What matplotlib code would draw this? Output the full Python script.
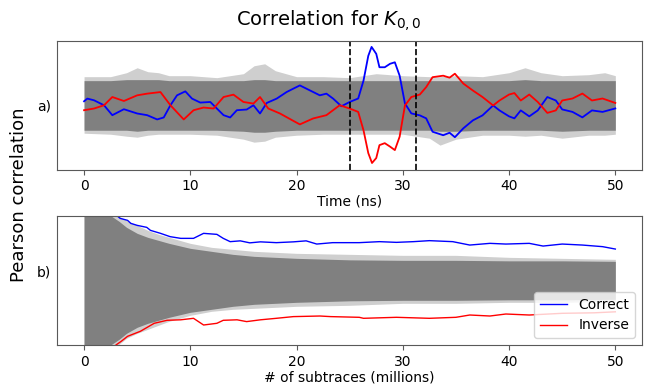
import numpy as np
import matplotlib.pyplot as plt

# values are Pearson correlation x 1000 (y tick labels are hidden in the chart)

# --- a) correlation over time ---
time_blue = [0.0, 0.31, 0.94, 1.88, 2.66, 3.75, 5.0, 5.94, 6.88, 7.5, 8.13, 8.75, 9.53,
             10.16, 10.94, 11.88, 12.5, 13.13, 13.75, 14.38, 15.31, 15.94, 16.56, 17.19,
             18.13, 19.06, 19.69, 20.31, 21.25, 22.19, 22.81, 23.44, 24.22, 25.0, 25.8,
             26.3, 26.75, 27.06, 27.5, 27.8, 28.3, 28.8, 29.25, 29.7, 30.2, 30.8, 31.6,
             32.2, 32.8, 33.8, 34.4, 34.9, 35.7, 36.6, 37.5, 38.5, 39.1, 40.0, 40.5, 41.1,
             41.9, 42.7, 43.6, 44.4, 45.0, 45.97, 46.9, 47.8, 48.8, 50.0]
corr_blue = [4.2, 6.9, 5.2, 0.2, -9.8, -3.8, -8.1, -9.8, -14.1, -12.1, 0.2, 10.2, 14.2,
             6.9, 2.9, 3.5, -3.1, -9.8, -12.1, -4.8, -4.1, 0.2, -8.1, 2.5,
             6.9, 13.5, 16.9, 20.2, 15.2, 10.2, 11.9, 6.9, -0.8, 3.5, 7.0,
             25.0, 50.0, 59.0, 52.0, 38.5, 38.5, 42.0, 43.5, 30.0, 2.0, -8.0, -10.0,
             -13.0, -26.5, -30.0, -27.5, -32.0, -23.0, -15.0, -10.0, 0.0, -5.0, -11.0, -13.0, -5.0,
             -11.0, -5.0, 8.5, 5.0, -4.0, -6.5, -12.0, -5.0, -6.5, -3.0]

time_red = [0.0, 0.94, 1.88, 2.66, 3.75, 5.0, 5.94, 7.19, 8.13, 9.38, 10.31, 11.25,
            12.19, 13.13, 14.06, 15.0, 15.94, 16.56, 17.34, 18.44, 19.69, 20.31, 21.56,
            22.81, 24.06, 25.0, 25.8, 26.3, 26.75, 27.1, 27.5, 27.8, 28.3, 28.8, 29.25,
            29.7, 30.2, 30.8, 31.6, 32.2, 32.8, 33.8, 34.4, 34.9, 35.7, 36.6, 37.5, 38.5,
            39.1, 40.0, 40.5, 41.1, 41.9, 42.7, 43.6, 44.4, 45.0, 45.97, 46.9, 47.8, 48.8,
            50.0]
corr_red = [-4.8, -3.1, 0.2, 8.5, 4.5, 10.2, 11.9, 13.5, 0.2, -14.1, -4.8, -2.1,
            -3.1, 8.5, 10.9, 3.5, 1.9, 8.5, -3.1, -8.1, -15.5, -19.1, -13.1,
            -9.8, 0.2, -3.1, -6.5, -25.0, -48.0, -58.0, -53.0, -40.0, -38.0, -41.5, -45.0,
            -31.5, 0.0, 8.5, 11.0, 18.5, 28.5, 30.0, 28.0, 32.0, 22.0, 15.0, 8.5, 0.0,
            5.0, 11.0, 12.5, 5.0, 11.0, 3.5, -7.5, -5.0, 5.0, 7.0, 12.0, 5.0, 7.0,
            2.5]

# grey key-guess traces, drawn as their envelopes
time_env = [0, 2.5, 4, 5, 6, 7, 8, 10, 12.5, 15, 16, 17, 18, 20, 22.5, 25, 27.5,
            30, 32.5, 33.5, 35, 37.5, 40, 41.5, 43, 45, 47.5, 49, 50]
grey_outer_hi = [29, 29, 33, 38, 34, 33, 30, 30, 28, 32, 40, 42, 35, 29, 29, 28, 32,
                 30, 29, 29, 30, 29, 33, 38, 33, 30, 31, 33, 30]
grey_outer_lo = [-28, -29, -31, -32, -30, -29, -29, -29, -30, -34, -37, -36, -32, -30, -29, -29, -29,
                 -29, -33, -40, -34, -30, -30, -31, -30, -33, -30, -30, -29]
grey_core_hi = [25, 25, 26, 26, 26, 26, 25, 25, 25, 25, 26, 26, 25, 25, 25, 25, 25,
                25, 25, 25, 25, 25, 25, 26, 25, 25, 25, 25, 25]
grey_core_lo = [-25, -25, -25, -26, -25, -25, -25, -25, -25, -26, -27, -27, -26, -25, -25, -25, -25,
                -25, -25, -26, -26, -25, -25, -25, -25, -26, -25, -25, -25]

window = [25.0, 31.2]

# --- b) correlation vs number of subtraces ---
n_blue = [2.9, 3.1, 3.4, 4.1, 4.4, 5.0, 5.9, 6.25, 7.2, 8.1, 9.1, 10.3, 11.25, 12.5,
          13.1, 13.75, 14.7, 15.6, 16.6, 18.1, 19.7, 20.9, 21.9, 23.4, 25.9, 27.8,
          29.4, 31.0, 32.5, 34.7, 36.3, 38.2, 39.7, 41.9, 43.2, 45.0, 46.9, 48.8, 50.0]
sub_blue = [70, 64.7, 62, 60, 57, 55, 53, 50, 47, 43.7, 42, 42, 47, 46,
            42, 38.7, 39.5, 37.5, 38.5, 37.7, 38.5, 39.5, 36.3, 37.7, 37.7, 38.7,
            38, 38.7, 39.7, 38.7, 35.3, 37, 36.3, 37, 34.3, 36.3, 35.3, 33.7, 31.3]

n_red = [2.8, 3.0, 3.5, 4.1, 5.3, 6.6, 7.8, 9.1, 10.3, 11.25, 12.5, 13.1, 14.4, 15.3,
         16.6, 18.1, 19.7, 22.2, 23.2, 25.9, 26.3, 29.4, 32.5, 35.0, 36.3, 38.2, 39.7,
         41.9, 45.0, 48.0, 50.0]
sub_red = [-70, -64.7, -61, -56, -51, -43, -40, -39.5, -38, -44.7, -43, -40, -39.5, -41.3,
           -39.5, -38, -36.3, -35.7, -36.3, -37, -38, -37, -38, -37, -34.7, -35.7, -33.7,
           -34.7, -33, -32.5, -31.5]

n_env = [0, 2.3, 2.6, 3.3, 4, 5, 6, 7, 8, 10, 12, 14, 16, 18, 20, 25, 30, 35, 40, 45, 50]
sub_outer_hi = [100, 100, 100, 64, 60, 55, 50, 46, 43, 37, 33, 31, 29, 28, 27, 26, 25, 25, 23, 22, 21]
sub_outer_lo = [-100, -100, -100, -64, -58, -53, -49, -45, -41, -35, -31, -29, -28, -27, -26, -25, -23, -23, -22, -22, -21]
sub_core_hi = [100, 100, 64, 59, 53, 47, 43, 40, 37, 32, 29, 26, 24, 23, 22, 20.5, 20, 20, 19.5, 19.5, 19]
sub_core_lo = [-100, -100, -64, -59, -53, -47, -43, -40, -37, -32, -29, -26, -24, -23, -22, -20.5, -20, -20, -19.5, -19.5, -19]

plt.rcParams['font.family'] = 'DejaVu Sans'
fig = plt.figure(figsize=(6.57, 3.9), dpi=100)
ax1 = fig.add_axes([0.0875, 0.565, 0.8895, 0.331])
ax2 = fig.add_axes([0.0875, 0.1154, 0.8895, 0.3316])

spine_col = '0.35'

# top panel
ax1.fill_between(time_env, grey_outer_lo, grey_outer_hi, color='#cfcfcf', lw=0)
ax1.fill_between(time_env, grey_core_lo, grey_core_hi, color='#808080', lw=0)
ax1.plot(time_blue, corr_blue, color='blue', lw=1.3)
ax1.plot(time_red, corr_red, color='red', lw=1.3)
for w in window:
    ax1.axvline(w, color='black', ls='--', lw=1.2)
ax1.set_xlim(-2.5, 52.5)
ax1.set_ylim(-64.7, 65.4)
ax1.set_xticks([0, 10, 20, 30, 40, 50])
ax1.set_yticks([])
ax1.set_xlabel('Time (ns)', fontsize=10, labelpad=1)

# bottom panel
ax2.fill_between(n_env, sub_outer_lo, sub_outer_hi, color='#cfcfcf', lw=0)
ax2.fill_between(n_env, sub_core_lo, sub_core_hi, color='#808080', lw=0)
ax2.plot(n_blue, sub_blue, color='blue', lw=1.0, label='Correct')
ax2.plot(n_red, sub_red, color='red', lw=1.0, label='Inverse')
ax2.set_xlim(-2.5, 52.5)
ax2.set_ylim(-64.7, 64.7)
ax2.set_xticks([0, 10, 20, 30, 40, 50])
ax2.set_yticks([])
ax2.set_xlabel('# of subtraces (millions)', fontsize=10, labelpad=1)
ax2.legend(loc='lower right', fontsize=10)

for ax in (ax1, ax2):
    for s in ax.spines.values():
        s.set_color(spine_col)
    ax.tick_params(axis='x', labelsize=10, color=spine_col)

fig.text(0.067, 0.727, 'a)', fontsize=10, ha='center', va='center')
fig.text(0.067, 0.30, 'b)', fontsize=10, ha='center', va='center')
fig.text(0.029, 0.50, 'Pearson correlation', fontsize=13, rotation=90,
         ha='center', va='center')
fig.suptitle('Correlation for $K_{0,0}$', fontsize=14, y=0.98)

fig.savefig('out.png', dpi=100)
